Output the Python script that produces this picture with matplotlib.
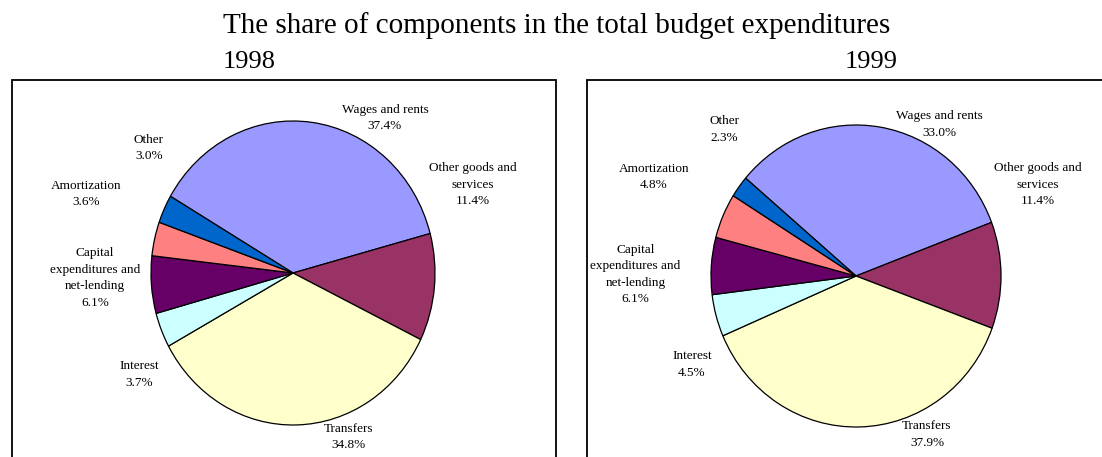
import matplotlib
matplotlib.use('Agg')
import matplotlib.pyplot as plt
from matplotlib.patches import Rectangle

plt.rcParams['font.family'] = ['Liberation Serif', 'DejaVu Serif']

# data
categories = ['Wages and rents', 'Other goods and\nservices', 'Transfers', 'Interest',
              'Capital\nexpenditures and\nnet-lending', 'Amortization', 'Other']
shares_1998 = [37.4, 11.4, 34.8, 3.7, 6.1, 3.6, 3.0]
shares_1999 = [33.0, 11.4, 37.9, 4.5, 6.1, 4.8, 2.3]
years = ['1998', '1999']
colors = ['#9999FF', '#993366', '#FFFFCC', '#CCFFFF', '#660066', '#FF8080', '#0066CC']

W, H = 1102, 457
fig = plt.figure(figsize=(W / 100, H / 100), dpi=100)


def fx(x):
    return x / W


def fy(y):
    return 1 - y / H


# panel frames
for x0, x1 in [(12, 556), (587, 1115)]:
    fig.add_artist(Rectangle((fx(x0), fy(470)), fx(x1 - x0), (470 - 80) / H,
                             transform=fig.transFigure, fill=False,
                             edgecolor='black', linewidth=1.3, clip_on=False))

fig.text(fx(557), fy(33), 'The share of components in the total budget expenditures',
         ha='center', va='baseline', fontsize=21)
fig.text(fx(249.5), fy(68), years[0], ha='center', va='baseline', fontsize=19)
fig.text(fx(871.5), fy(68), years[1], ha='center', va='baseline', fontsize=19)

# pie bounding boxes in pixels (left, top, right, bottom), start angles
panels = [
    (shares_1998, (151, 121, 435, 425), 149.7,
     [(385, 118), (473, 185), (349, 437), (139, 374.5), (95, 278), (86, 194), (149, 148)]),
    (shares_1999, (711, 125, 1001, 427), 139.6,
     [(939, 124.5), (1038, 185), (927, 434.5), (692, 364.5), (635.5, 274.5), (654, 177), (724, 129.5)]),
]

for vals, (l, t, r, b), start, label_pos in panels:
    ax = fig.add_axes([fx(l), fy(b), fx(r - l), (b - t) / H])
    ax.pie(vals, colors=colors, startangle=start, counterclock=False,
           wedgeprops=dict(edgecolor='black', linewidth=0.9))
    ax.set_aspect('auto')
    ax.set_xlim(-1, 1)
    ax.set_ylim(-1, 1)
    ax.axis('off')
    for name, v, (px, py) in zip(categories, vals, label_pos):
        fig.text(fx(px), fy(py), '%s\n%.1f%%' % (name, v), ha='center', va='center',
                 fontsize=9.5, linespacing=1.5)

fig.savefig('out.png', dpi=100)
